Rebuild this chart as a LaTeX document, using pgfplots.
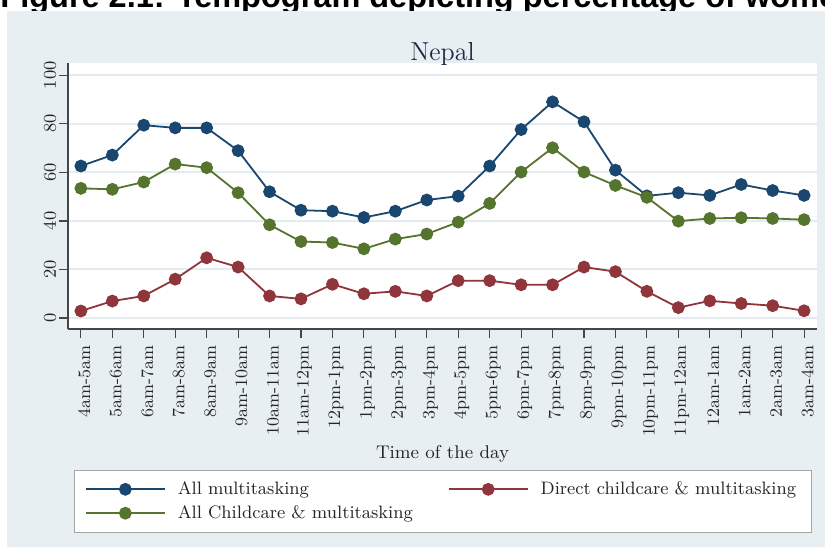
\documentclass[border=0pt]{standalone}
\usepackage{pgfplots}
\pgfplotsset{compat=1.18}
\usepackage{fontspec}
\newfontfamily\headfont{Liberation Sans}

\definecolor{navyc}{RGB}{26,71,111}
\definecolor{maroonc}{RGB}{144,53,59}
\definecolor{greenc}{RGB}{85,117,47}
\definecolor{bgc}{RGB}{232,239,242}
\definecolor{gridc}{RGB}{228,236,240}
\definecolor{axisc}{RGB}{70,70,70}
\definecolor{titlec}{RGB}{30,40,70}

\begin{document}
\begin{tikzpicture}[x=1pt,y=1pt]
\useasboundingbox (0,0) rectangle (412.5,273.5);
\clip (0,0) rectangle (412.5,273.5);
% cropped caption of the source page
\node[anchor=base west, inner sep=0pt, font=\headfont\bfseries\fontsize{16.25}{18}\selectfont]
  at (0,269.5) {Figure 2.1: Tempogram depicting percentage of women};
\fill[bgc] (3.5,0) rectangle (412.5,268);
\begin{axis}[
    at={(34pt,109pt)}, anchor=south west,
    scale only axis,
    width=374.5pt, height=133pt,
    xmin=-0.41, xmax=23.41,
    ymin=-4.5, ymax=105,
    axis x line*=bottom, axis y line*=left,
    axis line style={-, axisc, line width=0.6pt},
    axis background/.style={fill=white},
    ytick={0,20,...,100},
    xtick={0,...,23},
    xticklabels={4am-5am,5am-6am,6am-7am,7am-8am,8am-9am,9am-10am,10am-11am,11am-12pm,
      12pm-1pm,1pm-2pm,2pm-3pm,3pm-4pm,4pm-5pm,5pm-6pm,6pm-7pm,7pm-8pm,8pm-9pm,
      9pm-10pm,10pm-11pm,11pm-12am,12am-1am,1am-2am,2am-3am,3am-4am},
    ymajorgrids,
    major grid style={gridc, line width=1pt},
    tick align=outside,
    major tick length=4.5pt,
    tick style={axisc, line width=0.6pt},
    xticklabel style={xshift=1.75pt, rotate=90, anchor=east, font=\fontsize{8.75}{10}\selectfont, text=black!85},
    yticklabel style={xshift=2pt, rotate=90, anchor=south, font=\fontsize{8.75}{10}\selectfont, text=black!85},
    title={Nepal},
    title style={at={(axis description cs:0.5,1)}, anchor=base, yshift=-4.5pt,
      font=\fontsize{13}{15}\selectfont, text=titlec},
    xlabel={Time of the day},
    xlabel style={at={(axis description cs:0.5,-0.47)}, anchor=center,
      font=\fontsize{9.2}{11}\selectfont, text=black!85},
    legend columns=2,
    legend cell align=left,
    legend image code/.code={
      \draw[mark repeat=2, mark phase=2]
      plot coordinates {(0pt,0pt) (19.75pt,0pt) (39.5pt,0pt)};
    },
    legend style={at={(axis description cs:0.5,-0.53)}, anchor=north,
      draw=gray!70, fill=white, font=\fontsize{9}{11}\selectfont, text=black!85,
      inner xsep=5.5pt, inner ysep=3.5pt, row sep=0pt,
      /tikz/every odd column/.append style={column sep=4pt},
      /tikz/column 2/.style={column sep=15.5pt}},
]
% All multitasking
\addplot[navyc, line width=0.9pt, mark=*, mark size=2.75pt, mark options={solid, fill=navyc}] coordinates {
  (0,62.6) (1,67.1) (2,79.4) (3,78.3) (4,78.3) (5,68.9) (6,52.0) (7,44.4)
  (8,44.0) (9,41.4) (10,44.0) (11,48.6) (12,50.2) (13,62.6) (14,77.6) (15,89.0)
  (16,80.8) (17,60.9) (18,50.3) (19,51.6) (20,50.5) (21,55.0) (22,52.5) (23,50.5)
};
% Direct childcare & multitasking
\addplot[maroonc, line width=0.9pt, mark=*, mark size=2.75pt, mark options={solid, fill=maroonc}] coordinates {
  (0,2.9) (1,7.0) (2,9.1) (3,16.0) (4,24.8) (5,21.0) (6,9.1) (7,7.9)
  (8,13.9) (9,10.0) (10,11.0) (11,9.1) (12,15.4) (13,15.4) (14,13.7) (15,13.7)
  (16,21.0) (17,19.1) (18,11.0) (19,4.3) (20,7.1) (21,6.0) (22,5.1) (23,3.0)
};
% All childcare & multitasking
\addplot[greenc, line width=0.9pt, mark=*, mark size=2.75pt, mark options={solid, fill=greenc}] coordinates {
  (0,53.4) (1,53.0) (2,56.0) (3,63.4) (4,61.9) (5,51.6) (6,38.4) (7,31.5)
  (8,31.1) (9,28.5) (10,32.5) (11,34.6) (12,39.5) (13,47.2) (14,60.1) (15,70.1)
  (16,60.1) (17,54.6) (18,49.7) (19,39.9) (20,41.0) (21,41.3) (22,41.0) (23,40.5)
};
\legend{All multitasking, Direct childcare \& multitasking, All Childcare \& multitasking}
\end{axis}
\end{tikzpicture}
\end{document}
